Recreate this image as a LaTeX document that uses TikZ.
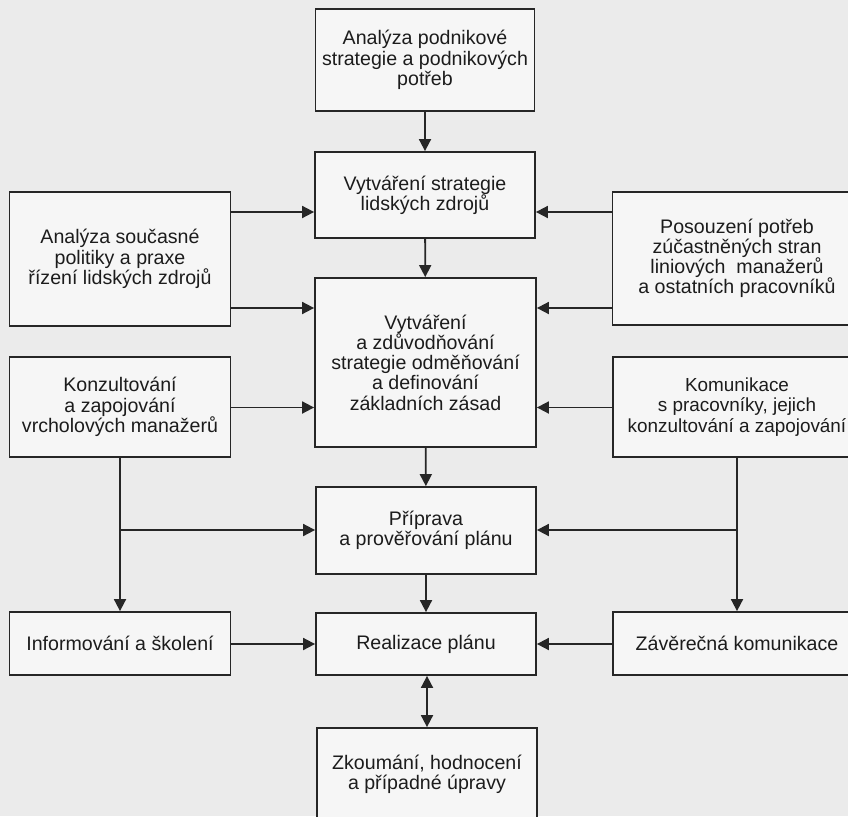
\documentclass[tikz,border=0pt]{standalone}
\usepackage{fontspec}
\setmainfont{Liberation Sans}
\usetikzlibrary{arrows.meta}
\definecolor{bgc}{HTML}{EBEBEB}
\definecolor{boxc}{HTML}{F6F6F6}
\definecolor{inkc}{HTML}{262626}
\definecolor{txtc}{HTML}{1C1C1C}
\tikzset{
  box/.style={draw=inkc, line width=1.8pt, fill=boxc, rectangle, inner sep=0pt,
    align=center, text=txtc, font=\fontsize{19.6}{20.2}\selectfont},
  arr/.style={draw=inkc, line width=1.8pt, -{Triangle[length=12pt,width=12pt]}},
  dblarr/.style={draw=inkc, line width=1.8pt, {Triangle[length=12pt,width=12pt]}-{Triangle[length=12pt,width=12pt]}},
  ln/.style={draw=inkc, line width=1.8pt}
}
\begin{document}
\begin{tikzpicture}[x=1pt,y=-1pt]
\useasboundingbox (0,0) rectangle (848,816);
\fill[bgc] (0,0) rectangle (848,816);
% centre column
\node[box, minimum width=219pt, minimum height=102pt] (A) at (425,60) {Analýza podnikové\\strategie a podnikových\\potřeb};
\node[box, minimum width=220pt, minimum height=86pt] (B) at (425,195) {Vytváření strategie\\lidských zdrojů};
\node[box, minimum width=221pt, minimum height=169pt] (C) at (425.5,362.5) {Vytváření\\a zdůvodňování\\strategie odměňování\\a definování\\základních zásad};
\node[box, minimum width=220pt, minimum height=87pt] (D) at (426,530.5) {Příprava\\a prověřování plánu};
\node[box, minimum width=220pt, minimum height=62pt] (E) at (426,644) {Realizace plánu};
\node[box, minimum width=220pt, minimum height=92pt] (F) at (427,774) {Zkoumání, hodnocení\\a případné úpravy};
% left column
\node[box, minimum width=221pt, minimum height=134pt] (L1) at (120,259) {Analýza současné\\politiky a praxe\\řízení lidských zdrojů};
\node[box, minimum width=221pt, minimum height=100pt] (L2) at (120,407) {Konzultování\\a zapojování\\vrcholových manažerů};
\node[box, minimum width=221pt, minimum height=63pt] (L3) at (120,643.5) {Informování a školení};
% right column
\node[box, minimum width=249pt, minimum height=133pt] (R1) at (737,258.5) {Posouzení potřeb\\zúčastněných stran\\liniových\ \ manažerů\\a ostatních pracovníků};
\node[box, minimum width=248pt, minimum height=100pt, font=\fontsize{18.9}{20.2}\selectfont] (R2) at (737,407) {Komunikace\\s pracovníky, jejich\\konzultování a zapojování};
\node[box, minimum width=248pt, minimum height=63pt] (R3) at (737,643.5) {Závěrečná komunikace};
% helper levels
\coordinate (yB) at (0,212);
\coordinate (yC1) at (0,308);
\coordinate (yC2) at (0,407.5);
\coordinate (yD) at (0,530);
\coordinate (yE) at (0,644);
% vertical flow
\draw[arr] (A) -- (B);
\draw[arr] (B) -- (C);
\draw[arr] (C) -- (D);
\draw[arr] (D) -- (E);
\draw[dblarr] (E.south -| F.north) -- (F.north);
% left inputs
\draw[arr] (L1.east |- yB) -- (B.west |- yB);
\draw[arr] (L1.east |- yC1) -- (C.west |- yC1);
\draw[arr] (L2.east |- yC2) -- (C.west |- yC2);
\draw[arr] (L2.south) -- (L3.north);
\draw[arr] (L2.south |- yD) -- (D.west |- yD);
\draw[arr] (L3.east |- yE) -- (E.west |- yE);
% right inputs
\draw[arr] (R1.west |- yB) -- (B.east |- yB);
\draw[arr] (R1.west |- yC1) -- (C.east |- yC1);
\draw[arr] (R2.west |- yC2) -- (C.east |- yC2);
\draw[arr] (R2.south) -- (R3.north);
\draw[arr] (R2.south |- yD) -- (D.east |- yD);
\draw[arr] (R3.west |- yE) -- (E.east |- yE);
\end{tikzpicture}
\end{document}
